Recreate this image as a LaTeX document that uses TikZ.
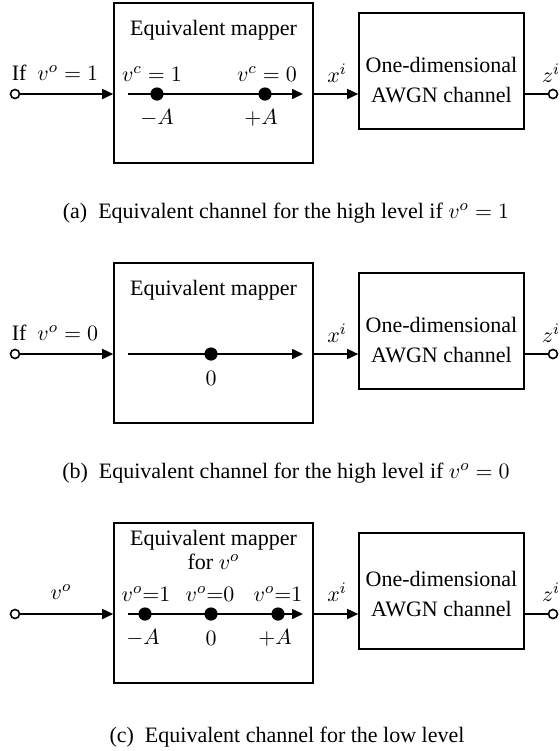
\documentclass[tikz,border=0pt]{standalone}
\usepackage{fontspec}
\setmainfont{Liberation Serif}
\usetikzlibrary{arrows.meta, positioning}

\tikzset{
  mapbox/.style={draw, line width=0.8pt, minimum width=99.5pt, minimum height=80pt},
  chanbox/.style={draw, line width=0.8pt, minimum width=82.5pt, minimum height=58pt},
  port/.style={draw, circle, fill=white, line width=0.8pt, inner sep=0pt, minimum size=4.5pt},
  dot/.style={circle, fill=black, inner sep=0pt, minimum size=6.6pt},
  sig/.style={line width=0.8pt, -{Triangle[length=5.5pt, width=5pt]}},
  wire/.style={line width=0.8pt},
  lbl/.style={inner sep=0pt, font=\fontsize{11}{12}\selectfont, align=center},
}

\begin{document}
\begin{tikzpicture}[x=0.5pt, y=-0.5pt]
\useasboundingbox (0,0) rectangle (560,751);

% (a) high level, v^o = 1
\node[mapbox] (mapA) at (213.5,83) {};
\node[chanbox] (awgnA) at (441.5,71) {};
\node[lbl] (chA) at (441.5,80) {One-dimensional\\[3pt]AWGN channel};
\node[lbl] (titA) at (213.5,30) {Equivalent mapper};
\node[port] (inA) at (15,94) {};
\node[port] (outA) at (553,94) {};
\coordinate (lA) at (127.5,94);
\coordinate (rA) at (303,94);
\draw[sig] (inA) -- (mapA.west |- inA);
\draw[sig] (lA) -- (rA);
\draw[sig] (mapA.east |- inA) -- (awgnA.west |- inA);
\draw[wire] (awgnA.east |- inA) -- (outA);
\node[dot] (d1A) at (157,94) {};
\node[dot] (d2A) at (265,94) {};
\node[lbl] (vinA) at (55,73) {If \ $v^o = 1$};
\node[lbl] (c1A) at (152,74) {$v^c = 1$};
\node[lbl] (c2A) at (267,74) {$v^c = 0$};
\node[lbl] (s1A) at (157,118) {$-A$};
\node[lbl] (s2A) at (261,118) {$+A$};
\node[lbl] (xA) at (337,73) {$x^i$};
\node[lbl] (zA) at (551,73) {$z^i$};
\node[lbl] (capA) at (286,213) {(a)\ \ Equivalent channel for the high level if $v^o = 1$};

% (b) high level, v^o = 0
\begin{scope}[shift={(0,260)}]
\node[mapbox] (mapB) at (213.5,83) {};
\node[chanbox] (awgnB) at (441.5,71) {};
\node[lbl] (chB) at (441.5,80) {One-dimensional\\[3pt]AWGN channel};
\node[lbl] (titB) at (213.5,30) {Equivalent mapper};
\node[port] (inB) at (15,94) {};
\node[port] (outB) at (553,94) {};
\coordinate (lB) at (127.5,94);
\coordinate (rB) at (303,94);
\draw[sig] (inB) -- (mapB.west |- inB);
\draw[sig] (lB) -- (rB);
\draw[sig] (mapB.east |- inB) -- (awgnB.west |- inB);
\draw[wire] (awgnB.east |- inB) -- (outB);
\node[dot] (d1B) at (211,94) {};
\node[lbl] (vinB) at (55,73) {If \ $v^o = 0$};
\node[lbl] (s1B) at (211,118) {$0$};
\node[lbl] (xB) at (337,73) {$x^i$};
\node[lbl] (zB) at (551,73) {$z^i$};
\node[lbl] (capB) at (286,213) {(b)\ \ Equivalent channel for the high level if $v^o = 0$};
\end{scope}

% (c) low level
\begin{scope}[shift={(0,520)}]
\node[mapbox] (mapC) at (213.5,83) {};
\node[chanbox] (awgnC) at (441.5,71) {};
\node[lbl] (chC) at (441.5,74) {One-dimensional\\[3pt]AWGN channel};
\node[lbl] (titC) at (213.5,30) {Equivalent mapper\\for $v^o$};
\node[port] (inC) at (15,94) {};
\node[port] (outC) at (553,94) {};
\coordinate (lC) at (127.5,94);
\coordinate (rC) at (303,94);
\draw[sig] (inC) -- (mapC.west |- inC);
\draw[sig] (lC) -- (rC);
\draw[sig] (mapC.east |- inC) -- (awgnC.west |- inC);
\draw[wire] (awgnC.east |- inC) -- (outC);
\node[dot] (d1C) at (145,94) {};
\node[dot] (d2C) at (211,94) {};
\node[dot] (d3C) at (278,94) {};
\node[lbl] (vinC) at (61,72) {$v^o$};
\node[lbl] (c1C) at (146,74) {$v^o{=}1$};
\node[lbl] (c2C) at (210,74) {$v^o{=}0$};
\node[lbl] (c3C) at (278,74) {$v^o{=}1$};
\node[lbl] (s1C) at (143,118) {$-A$};
\node[lbl] (s2C) at (211,118) {$0$};
\node[lbl] (s3C) at (275,118) {$+A$};
\node[lbl] (xC) at (337,72) {$x^i$};
\node[lbl] (zC) at (551,72) {$z^i$};
\node[lbl] (capC) at (287,217) {(c)\ \ Equivalent channel for the low level};
\end{scope}
\end{tikzpicture}
\end{document}
